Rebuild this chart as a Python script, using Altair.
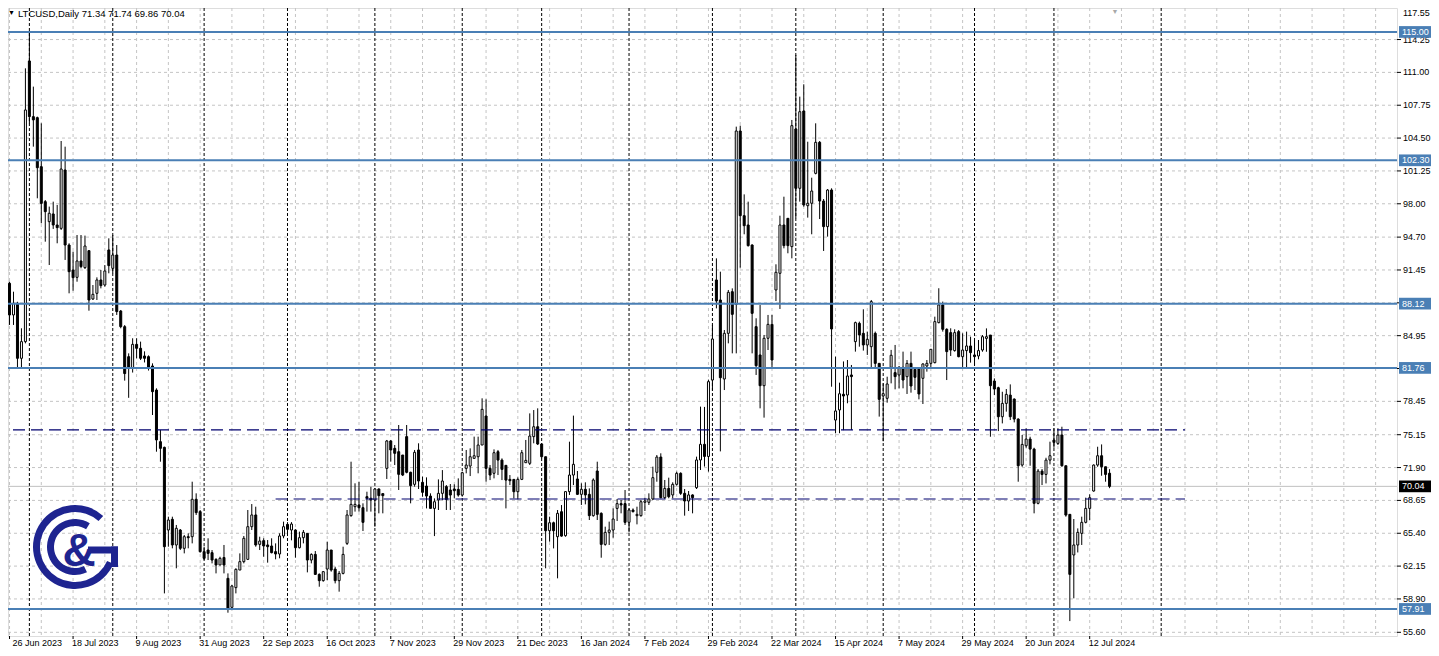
import altair as alt
import pandas as pd

# ---------------- data ----------------
OPEN = [90.13, 87.00, 88.15, 82.71, 84.36, 112.13, 106.62, 106.52, 101.67, 98.21,
        96.23, 96.99, 95.90, 95.57, 101.34, 93.92, 91.45, 90.72, 92.34, 91.68,
        93.36, 88.58, 89.14, 90.46, 89.96, 93.43, 91.61, 92.93, 87.39, 85.84,
        82.87, 81.72, 84.09, 83.70, 82.94, 82.87, 81.95, 79.57, 74.46, 73.90,
        65.72, 66.78, 64.24, 65.72, 63.91, 65.06, 65.06, 68.76, 67.54, 63.58,
        63.74, 63.48, 62.82, 62.26, 63.00, 60.94, 58.07, 60.02, 61.76, 62.59,
        62.82, 66.05, 67.21, 64.30, 64.67, 64.24, 64.14, 63.58, 63.35, 65.13,
        66.28, 65.72, 65.72, 63.97, 64.96, 65.39, 62.75, 63.31, 61.33, 60.71,
        61.86, 63.74, 61.86, 60.71, 61.43, 64.40, 67.14, 68.03, 68.20, 67.93,
        69.02, 68.86, 68.69, 69.78, 69.32, 71.82, 74.53, 73.80, 73.47, 73.14,
        74.96, 71.43, 70.24, 73.64, 70.44, 70.07, 69.08, 67.86, 68.68, 69.35,
        70.01, 69.68, 69.78, 69.74, 69.18, 71.82, 72.05, 72.81, 72.97, 74.13,
        77.00, 71.82, 71.33, 73.47, 72.64, 72.12, 70.73, 70.73, 69.51, 70.73,
        72.38, 72.32, 74.96, 75.94, 74.23, 72.97, 65.65, 66.44, 65.06, 67.53,
        65.16, 69.52, 71.16, 70.77, 69.25, 69.75, 69.25, 67.14, 71.56, 67.37,
        64.30, 65.49, 65.72, 67.86, 68.33, 68.33, 66.48, 67.70, 67.14, 67.14,
        68.46, 68.46, 68.79, 71.43, 72.94, 68.92, 69.84, 69.19, 70.24, 71.33,
        69.35, 68.59, 69.19, 69.91, 72.65, 74.20, 73.00, 80.56, 90.46, 88.48,
        80.66, 85.18, 89.30, 88.05, 105.20, 96.82, 95.90, 93.92, 85.84, 83.04,
        80.00, 84.69, 86.07, 89.47, 91.12, 95.90, 96.56, 93.76, 105.40, 99.53,
        107.18, 97.81, 98.05, 101.01, 104.08, 98.27, 95.74, 99.36, 76.60, 77.60,
        79.15, 79.08, 81.06, 84.36, 86.17, 85.18, 84.03, 83.86, 85.18, 82.21,
        78.98, 78.75, 81.82, 81.29, 81.06, 81.82, 80.89, 82.21, 81.62, 81.72,
        80.73, 81.95, 82.21, 82.28, 86.24, 87.99, 85.58, 85.25, 83.47, 85.35,
        82.87, 83.47, 83.93, 83.04, 82.94, 83.53, 84.68, 85.01, 80.46, 79.80,
        76.93, 78.25, 79.07, 78.68, 76.70, 72.15, 74.06, 74.72, 73.73, 68.36,
        71.55, 71.22, 72.64, 74.62, 74.29, 75.12, 72.08, 67.27, 63.25, 64.24,
        65.39, 66.48, 67.86, 69.58, 72.15, 73.07, 71.98, 71.34]
HIGH = [90.29, 89.30, 88.30, 85.68, 111.40, 115.03, 109.59, 106.62, 105.96, 98.37,
        97.72, 98.21, 97.88, 104.21, 103.65, 94.09, 93.26, 94.91, 94.91, 94.85,
        93.36, 89.96, 90.72, 91.45, 91.94, 94.58, 94.91, 93.92, 87.49, 86.00,
        83.20, 84.69, 84.69, 84.36, 83.40, 83.00, 82.21, 79.74, 75.62, 73.97,
        67.04, 67.04, 66.22, 65.82, 65.23, 65.39, 70.50, 69.35, 67.70, 64.07,
        64.90, 63.74, 62.92, 63.08, 64.24, 61.43, 60.28, 61.93, 63.41, 65.13,
        67.70, 68.29, 68.03, 65.06, 64.90, 64.73, 64.90, 64.40, 65.39, 66.55,
        66.50, 66.50, 65.80, 65.56, 65.72, 65.39, 63.41, 63.64, 61.43, 61.66,
        64.57, 63.74, 62.09, 61.66, 64.07, 67.70, 72.48, 70.34, 70.50, 68.36,
        69.51, 70.00, 69.84, 69.84, 69.32, 74.63, 74.63, 74.13, 76.11, 73.14,
        76.11, 71.49, 73.64, 74.30, 71.00, 70.93, 69.35, 68.85, 70.73, 71.65,
        70.17, 70.27, 70.24, 70.83, 71.49, 73.64, 73.80, 74.96, 74.96, 78.75,
        78.65, 72.15, 73.70, 73.64, 72.81, 72.15, 71.16, 70.73, 70.93, 73.64,
        74.63, 77.26, 77.59, 77.76, 74.30, 72.97, 67.04, 66.55, 67.70, 68.19,
        69.52, 74.46, 77.04, 71.56, 70.34, 70.44, 69.84, 70.83, 72.48, 67.47,
        66.05, 66.55, 67.86, 68.79, 68.69, 69.68, 67.86, 67.86, 68.03, 68.69,
        68.92, 69.35, 71.99, 73.14, 73.31, 70.67, 70.90, 70.44, 71.49, 71.43,
        69.78, 69.58, 69.25, 72.98, 77.93, 77.90, 80.60, 86.00, 92.60, 91.28,
        85.51, 89.47, 89.63, 105.63, 105.73, 98.93, 98.21, 93.99, 86.67, 87.98,
        85.02, 87.00, 87.00, 92.01, 96.82, 98.70, 96.56, 106.29, 112.72, 108.60,
        109.82, 104.14, 100.58, 105.96, 104.21, 98.47, 99.46, 99.53, 82.87, 80.30,
        82.40, 82.54, 82.05, 86.34, 86.34, 87.56, 85.35, 88.48, 85.35, 82.21,
        80.23, 80.89, 83.54, 84.03, 81.95, 83.37, 82.54, 83.37, 81.72, 81.72,
        82.21, 82.54, 83.60, 86.83, 89.64, 88.32, 85.68, 85.68, 85.58, 85.51,
        85.18, 85.35, 84.85, 84.50, 84.52, 85.01, 85.67, 85.01, 80.72, 79.90,
        79.40, 79.67, 80.13, 78.74, 76.77, 75.12, 75.78, 74.95, 73.86, 71.75,
        71.75, 72.87, 74.46, 75.78, 75.78, 75.94, 72.08, 67.27, 66.81, 65.88,
        67.04, 68.92, 69.25, 72.21, 73.96, 74.19, 71.98, 71.74]
LOW = [86.01, 86.01, 81.72, 81.72, 84.19, 105.96, 103.65, 98.54, 96.07, 94.25,
       91.94, 95.51, 94.09, 95.41, 92.44, 89.14, 89.40, 90.29, 91.61, 91.55,
       87.42, 88.48, 88.48, 89.63, 89.80, 91.12, 91.12, 87.00, 85.68, 80.50,
       78.80, 81.30, 82.71, 82.54, 82.30, 81.50, 77.10, 73.47, 72.48, 59.45,
       64.07, 63.91, 61.93, 63.74, 63.41, 63.91, 64.40, 67.21, 63.48, 62.75,
       62.75, 62.42, 61.43, 62.26, 61.43, 57.54, 57.97, 59.45, 61.76, 62.42,
       62.75, 65.72, 64.07, 63.74, 63.08, 62.49, 63.41, 62.82, 62.92, 64.90,
       65.40, 64.70, 62.98, 63.90, 64.40, 61.53, 62.42, 61.27, 60.11, 60.61,
       60.77, 61.60, 60.44, 59.62, 61.33, 64.24, 67.04, 67.54, 67.54, 65.62,
       67.54, 67.54, 66.05, 67.37, 67.37, 70.77, 72.48, 72.15, 69.68, 71.06,
       71.33, 68.36, 70.01, 69.78, 69.02, 67.86, 67.86, 65.12, 67.70, 68.68,
       67.70, 67.70, 68.85, 69.02, 69.02, 71.33, 71.06, 72.81, 71.33, 74.13,
       70.50, 70.66, 70.83, 71.16, 70.66, 67.86, 70.17, 68.85, 68.75, 70.66,
       72.38, 72.15, 74.30, 74.13, 72.81, 61.93, 64.57, 63.90, 60.94, 65.06,
       65.06, 69.19, 70.17, 69.19, 68.20, 68.26, 66.71, 67.04, 66.71, 62.98,
       64.17, 64.24, 64.96, 66.61, 67.37, 66.22, 65.49, 67.47, 66.28, 67.04,
       67.60, 68.20, 68.69, 70.50, 68.86, 68.79, 68.86, 68.86, 70.11, 69.19,
       67.14, 67.60, 67.37, 69.78, 71.66, 72.00, 71.50, 79.50, 87.65, 73.50,
       79.57, 84.19, 83.20, 83.20, 91.68, 94.98, 93.76, 83.20, 81.06, 77.76,
       76.84, 83.53, 81.72, 88.38, 87.59, 93.59, 93.10, 92.60, 96.56, 98.21,
       97.71, 96.63, 94.98, 100.91, 96.49, 93.33, 94.75, 79.90, 75.29, 75.30,
       75.60, 78.26, 75.62, 83.37, 83.86, 83.47, 83.04, 81.72, 81.72, 76.94,
       74.50, 78.32, 80.23, 79.64, 79.74, 79.74, 79.18, 79.31, 79.57, 78.65,
       78.19, 81.39, 81.82, 82.21, 86.17, 85.35, 80.56, 82.94, 83.37, 82.81,
       81.82, 81.82, 82.28, 82.00, 82.61, 83.36, 83.36, 74.95, 79.07, 75.51,
       76.27, 77.43, 76.60, 76.37, 70.50, 71.98, 73.86, 72.08, 67.37, 68.26,
       70.17, 70.33, 72.21, 73.86, 74.13, 71.98, 67.04, 56.71, 58.96, 63.50,
       64.24, 66.38, 66.71, 69.51, 71.98, 71.09, 70.50, 69.86]
CLOSE = [87.00, 88.15, 82.71, 84.36, 107.28, 106.62, 106.30, 101.57, 98.04, 97.22,
         97.06, 95.90, 95.64, 101.44, 93.92, 91.28, 90.69, 92.34, 91.78, 93.82,
         88.48, 89.04, 90.46, 89.90, 91.35, 91.88, 92.93, 87.33, 85.84, 81.20,
         81.72, 84.09, 83.70, 82.71, 82.71, 81.72, 79.41, 74.63, 73.80, 64.07,
         66.71, 64.24, 65.89, 63.91, 65.06, 64.96, 68.76, 67.44, 63.58, 62.92,
         63.41, 62.75, 62.26, 62.92, 62.26, 58.00, 60.18, 61.83, 62.59, 64.90,
         66.05, 67.21, 64.24, 64.63, 64.14, 64.07, 63.48, 63.35, 65.13, 66.05,
         65.79, 66.31, 63.97, 64.96, 65.49, 62.75, 63.31, 61.33, 60.71, 61.60,
         63.74, 61.76, 60.71, 61.43, 63.31, 67.21, 68.26, 68.26, 67.93, 66.48,
         68.86, 68.69, 69.78, 69.12, 69.12, 74.53, 73.64, 73.31, 71.23, 71.16,
         71.43, 70.11, 73.41, 70.57, 69.45, 69.08, 67.86, 68.52, 69.35, 70.57,
         68.75, 69.18, 69.61, 69.18, 71.39, 72.15, 72.97, 73.07, 74.13, 77.66,
         71.82, 71.16, 73.37, 72.64, 71.72, 70.66, 70.60, 69.51, 70.73, 73.37,
         72.61, 75.02, 75.94, 74.23, 72.97, 65.65, 66.44, 65.65, 67.37, 65.12,
         69.52, 71.16, 72.22, 69.25, 69.75, 69.19, 67.14, 70.67, 67.27, 64.30,
         65.49, 65.72, 66.81, 68.33, 68.20, 66.48, 67.70, 67.53, 67.27, 68.52,
         68.59, 68.79, 70.90, 72.94, 68.92, 69.84, 69.02, 70.24, 71.33, 69.35,
         68.59, 69.19, 68.92, 72.65, 74.20, 73.00, 80.40, 84.62, 88.38, 80.79,
         85.18, 89.24, 87.06, 105.20, 96.82, 95.83, 93.86, 87.16, 81.98, 80.00,
         84.69, 86.07, 82.54, 91.22, 95.90, 93.86, 93.86, 105.73, 99.53, 107.11,
         97.88, 98.05, 99.26, 104.08, 98.27, 95.74, 99.36, 85.61, 77.50, 79.20,
         78.98, 80.96, 80.90, 86.24, 85.02, 84.03, 84.59, 88.32, 82.21, 78.65,
         79.21, 80.17, 83.01, 80.90, 81.82, 80.56, 82.21, 79.97, 80.83, 79.18,
         82.15, 82.21, 83.60, 86.34, 87.99, 85.58, 83.37, 83.53, 85.25, 82.87,
         83.53, 83.93, 83.27, 82.87, 83.47, 84.85, 84.85, 80.00, 79.67, 76.93,
         78.25, 79.14, 76.93, 76.70, 72.08, 74.19, 74.72, 73.73, 68.36, 71.55,
         71.22, 72.64, 73.07, 74.39, 75.12, 72.08, 67.20, 61.33, 64.24, 65.49,
         66.48, 67.86, 68.92, 72.15, 73.07, 71.98, 71.22, 70.04]

DATE_LABELS = ["26 Jun 2023", "18 Jul 2023", "9 Aug 2023", "31 Aug 2023",
               "22 Sep 2023", "16 Oct 2023", "7 Nov 2023", "29 Nov 2023",
               "21 Dec 2023", "16 Jan 2024", "7 Feb 2024", "29 Feb 2024",
               "22 Mar 2024", "15 Apr 2024", "7 May 2024", "29 May 2024",
               "20 Jun 2024", "12 Jul 2024"]
LABEL_STEP = 16
Y_TICKS = [55.60, 58.90, 62.15, 65.40, 68.65, 71.90, 75.15, 78.45, 81.70, 84.95,
           88.20, 91.45, 94.70, 98.00, 101.25, 104.50, 107.75, 111.00, 114.25, 117.55]
Y_HIDDEN = [81.70, 88.20]
VGRID_BARS = list(range(0, 345, 8))
MONTH_BARS = [5, 26, 49, 70, 92, 114, 134, 156, 177, 198, 220, 243, 263, 290]
LEVELS = [115.00, 102.30, 88.12, 81.76, 57.91]
DASH_LEVELS = [75.62, 68.79]
DASH_START = [0.875, 67]
DASH_END = [296, 296]
LAST_PRICE = CLOSE[-1]
SYMBOL = "LTCUSD,Daily"

# ---------------- chart ----------------
W, H = 1389, 628
FONT = "Liberation Sans, Arial, sans-serif"
BLUE = "#4a7fb5"
NAVY = "#00006e"
LOGO = "#1e2490"
GRID = "#c4c4c4"

xs = alt.Scale(domain=[0.875, 348.125], nice=False, zero=False)
ys = alt.Scale(domain=[55.234, 117.37], nice=False, zero=False)


def one():
    return pd.DataFrame({"k": [0]})


df = pd.DataFrame({"i": list(range(len(OPEN))), "o": OPEN, "h": HIGH, "l": LOW, "c": CLOSE})
y_vals = [t for t in Y_TICKS if t not in Y_HIDDEN]

hgrid = alt.Chart(pd.DataFrame({"v": Y_TICKS})).mark_rule(
    color=GRID, strokeDash=[3, 3], strokeWidth=1
).encode(y=alt.Y("v:Q", scale=ys, axis=None))

vgrid = alt.Chart(pd.DataFrame({"b": VGRID_BARS})).mark_rule(
    color=GRID, strokeDash=[3, 3], strokeWidth=1
).encode(x=alt.X("b:Q", scale=xs, axis=None))

months = alt.Chart(pd.DataFrame({"b": MONTH_BARS})).mark_rule(
    color="black", strokeDash=[3, 2], strokeWidth=1
).encode(x=alt.X("b:Q", scale=xs, axis=None))

last_line = alt.Chart(pd.DataFrame({"v": [LAST_PRICE]})).mark_rule(
    color="#c0c0c0", strokeWidth=1
).encode(y=alt.Y("v:Q", scale=ys, axis=None))

wicks = alt.Chart(df).mark_rule(color="black", strokeWidth=1).encode(
    x=alt.X("i:Q", scale=xs, axis=None),
    y=alt.Y("l:Q", scale=ys, axis=None),
    y2="h:Q",
)

bodies = alt.Chart(df).mark_bar(size=2, stroke="black", strokeWidth=1).encode(
    x=alt.X("i:Q", scale=xs, axis=None),
    y=alt.Y("o:Q", scale=ys, axis=None),
    y2="c:Q",
    fill=alt.condition("datum.c >= datum.o", alt.value("white"), alt.value("black")),
)

levels = alt.Chart(pd.DataFrame({"v": LEVELS})).mark_rule(
    color=BLUE, strokeWidth=2
).encode(y=alt.Y("v:Q", scale=ys, axis=None))

dashed = alt.Chart(pd.DataFrame({"v": DASH_LEVELS, "a": DASH_START, "b": DASH_END})).mark_rule(
    color=NAVY, strokeWidth=1.2, strokeDash=[12, 6]
).encode(x=alt.X("a:Q", scale=xs, axis=None), x2="b:Q", y=alt.Y("v:Q", scale=ys, axis=None))

# right price axis (ticks + labels)
yticks = alt.Chart(pd.DataFrame({"v": Y_TICKS})).mark_rule(color="black", strokeWidth=1).encode(
    x=alt.value(W), x2=alt.value(W + 4), y=alt.Y("v:Q", scale=ys, axis=None))
ylabels = alt.Chart(pd.DataFrame({"v": y_vals})).transform_calculate(
    yy="min(datum.v, 116.85)", txt="format(datum.v, '.2f')"
).mark_text(align="left", baseline="middle", font=FONT, fontSize=9, color="black").encode(
    x=alt.value(W + 6), y=alt.Y("yy:Q", scale=ys, axis=None), text="txt:N")

# bottom date axis (ticks + labels)
xlab_df = pd.DataFrame({"b": [LABEL_STEP * k for k in range(len(DATE_LABELS))], "t": DATE_LABELS})
xticks = alt.Chart(xlab_df).mark_rule(color="black", strokeWidth=1).encode(
    x=alt.X("b:Q", scale=xs, axis=None), y=alt.value(H), y2=alt.value(H + 3))
xlabels = alt.Chart(xlab_df).transform_calculate(xx="max(datum.b, 1.0)").mark_text(
    align="left", baseline="top", font=FONT, fontSize=9, color="black", dx=-1
).encode(x=alt.X("xx:Q", scale=xs, axis=None), y=alt.value(H + 3), text="t:N")

# level label boxes on the price axis
lvl_df = pd.DataFrame({"v": LEVELS + [LAST_PRICE],
                       "kind": ["lvl"] * len(LEVELS) + ["last"]})
boxes = alt.Chart(lvl_df).transform_calculate(
    top="datum.v + 0.58", bot="datum.v - 0.58"
).mark_rect().encode(
    x=alt.value(W + 2), x2=alt.value(W + 34),
    y=alt.Y("top:Q", scale=ys, axis=None), y2="bot:Q",
    color=alt.condition("datum.kind == 'last'", alt.value("black"), alt.value(BLUE)),
)
box_text = alt.Chart(lvl_df).transform_calculate(
    txt="format(datum.v, '.2f')"
).mark_text(align="left", baseline="middle", color="white", font=FONT, fontSize=9).encode(
    x=alt.value(W + 5), y=alt.Y("v:Q", scale=ys, axis=None), text="txt:N")

# logo (page coords minus 8px margin)
CX, CY = 67, 539
outer = alt.Chart(one()).mark_arc(
    radius=42, radius2=35, theta=1.98, theta2=7.02, color=LOGO
).encode(x=alt.value(CX), y=alt.value(CY))
inner = alt.Chart(one()).mark_arc(
    radius=28, radius2=21, theta=2.70, theta2=6.84, color=LOGO
).encode(x=alt.value(CX), y=alt.value(CY))
gbar1 = alt.Chart(one()).mark_rect(color=LOGO).encode(
    x=alt.value(CX + 13), x2=alt.value(CX + 43), y=alt.value(CY - 0.5), y2=alt.value(CY + 6.5))
gbar2 = alt.Chart(one()).mark_rect(color=LOGO).encode(
    x=alt.value(CX + 36), x2=alt.value(CX + 43), y=alt.value(CY - 0.5), y2=alt.value(CY + 20))
amp = alt.Chart(one()).mark_text(
    text="&", font="Liberation Sans", fontWeight="bold", fontSize=46, color=LOGO,
    align="center", baseline="middle"
).encode(x=alt.value(CX + 4), y=alt.value(CY + 5))

# title
title_txt = "%s  %.2f %.2f %.2f %.2f" % (SYMBOL, OPEN[-1], HIGH[-1], LOW[-1], CLOSE[-1])
tri = alt.Chart(one()).mark_text(
    text="\u25bc", fontSize=7, color="black", align="center", baseline="middle"
).encode(x=alt.value(3.5), y=alt.value(5))
title = alt.Chart(one()).mark_text(
    text=title_txt, font=FONT, fontSize=9.5, color="black", align="left", baseline="middle"
).encode(x=alt.value(10), y=alt.value(5.5))
shift = alt.Chart(one()).mark_text(
    text="\u25bc", fontSize=7, color="#a8a8a8", align="center", baseline="middle"
).encode(x=alt.value(1107), y=alt.value(3.5))

chart = alt.layer(
    hgrid, vgrid, months, last_line, wicks, bodies, levels, dashed,
    yticks, ylabels, xticks, xlabels, boxes, box_text,
    outer, inner, gbar1, gbar2, amp, tri, title, shift
).properties(
    width=W, height=H,
    autosize=alt.AutoSizeParams(type="none"),
    padding={"left": 0, "top": 0, "right": 34, "bottom": 12},
).configure_view(stroke="black", strokeWidth=1).configure(background="white")

chart.save("out.html", embed_options={"renderer": "svg", "actions": False})
